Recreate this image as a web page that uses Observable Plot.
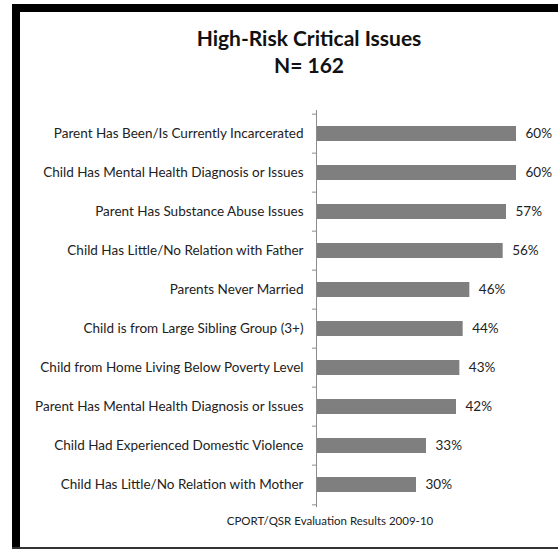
<!DOCTYPE html>
<html>
<head>
<meta charset="utf-8">
<script src="https://cdn.jsdelivr.net/npm/d3@7"></script>
<script src="https://cdn.jsdelivr.net/npm/@observablehq/plot@0.6"></script>
<style>
  html, body { margin: 0; padding: 0; background: #fff; }
  #page { position: relative; width: 558px; height: 549px; overflow: hidden; font-family: Lato, "Open Sans", sans-serif; }
  #page svg { position: absolute; left: 0; top: 0; }
  .bar { position: absolute; }
  .t { position: absolute; left: 109px; width: 400px; text-align: center; color: #111; font-weight: bold; font-size: 21px; line-height: 21px; }
  .cap { position: absolute; left: 180px; width: 300px; text-align: center; color: #222; font-size: 11.5px; line-height: 12px; }
</style>
</head>
<body>
<div id="page">
  <div class="bar" style="left:12px;top:4px;width:8px;height:544px;background:#000"></div>
  <div class="bar" style="left:12px;top:4px;width:546px;height:8px;background:#000"></div>
  <div class="bar" style="left:12px;top:547px;width:546px;height:2px;background:#333"></div>
  <div class="t" style="top:27px">High-Risk Critical Issues</div>
  <div class="t" style="top:54px">N= 162</div>
  <div id="chart"></div>
  <div class="cap" style="top:515px">CPORT/QSR Evaluation Results 2009-10</div>
</div>
<script>
const categories = [
  "Parent Has Been/Is Currently Incarcerated",
  "Child Has Mental Health Diagnosis or Issues",
  "Parent Has Substance Abuse Issues",
  "Child Has Little/No Relation with Father",
  "Parents Never Married",
  "Child is from Large Sibling Group (3+)",
  "Child from Home Living Below Poverty Level",
  "Parent Has Mental Health Diagnosis or Issues",
  "Child Had Experienced Domestic Violence",
  "Child Has Little/No Relation with Mother"
];
const values = [60, 60, 57, 56, 46, 44, 43, 42, 33, 30];
const valueLabels = ["60%", "60%", "57%", "56%", "46%", "44%", "43%", "42%", "33%", "30%"];

const data = categories.map((c, i) => ({category: c, value: values[i], label: valueLabels[i]}));

const W = 558, H = 549, plotTop = 110, plotBottom = 507;
const step = (plotBottom - plotTop) / 10;
const lastCat = categories[categories.length - 1];

const chart = Plot.plot({
  width: W,
  height: H,
  marginLeft: 316,
  marginRight: 2,
  marginTop: plotTop,
  marginBottom: H - plotBottom,
  style: {fontFamily: "Lato, 'Open Sans', sans-serif", fontSize: "13.5px", color: "#222", background: "transparent", overflow: "visible"},
  x: {domain: [0, 72], axis: null},
  y: {domain: categories, paddingInner: 0.62, paddingOuter: 0.31, label: null},
  marks: [
    Plot.barX(data, {x: "value", y: "category", fill: "#7f7f7f"}),
    Plot.ruleX([0], {stroke: "#8c8c8c", strokeWidth: 1}),
    Plot.ruleY(categories, {y: d => d, x1: -1.2, x2: 0, dy: -step / 2, stroke: "#8c8c8c"}),
    Plot.ruleY([lastCat], {y: d => d, x1: -1.2, x2: 0, dy: step / 2, stroke: "#8c8c8c"}),
    Plot.axisY({tickSize: 0, tickPadding: 13, fontSize: 13.5, fill: "#222", label: null}),
    Plot.text(data, {x: "value", y: "category", text: "label", dx: 9, textAnchor: "start", fontSize: 13.5, fill: "#222"})
  ]
});
document.getElementById("chart").appendChild(chart);
</script>
</body>
</html>
